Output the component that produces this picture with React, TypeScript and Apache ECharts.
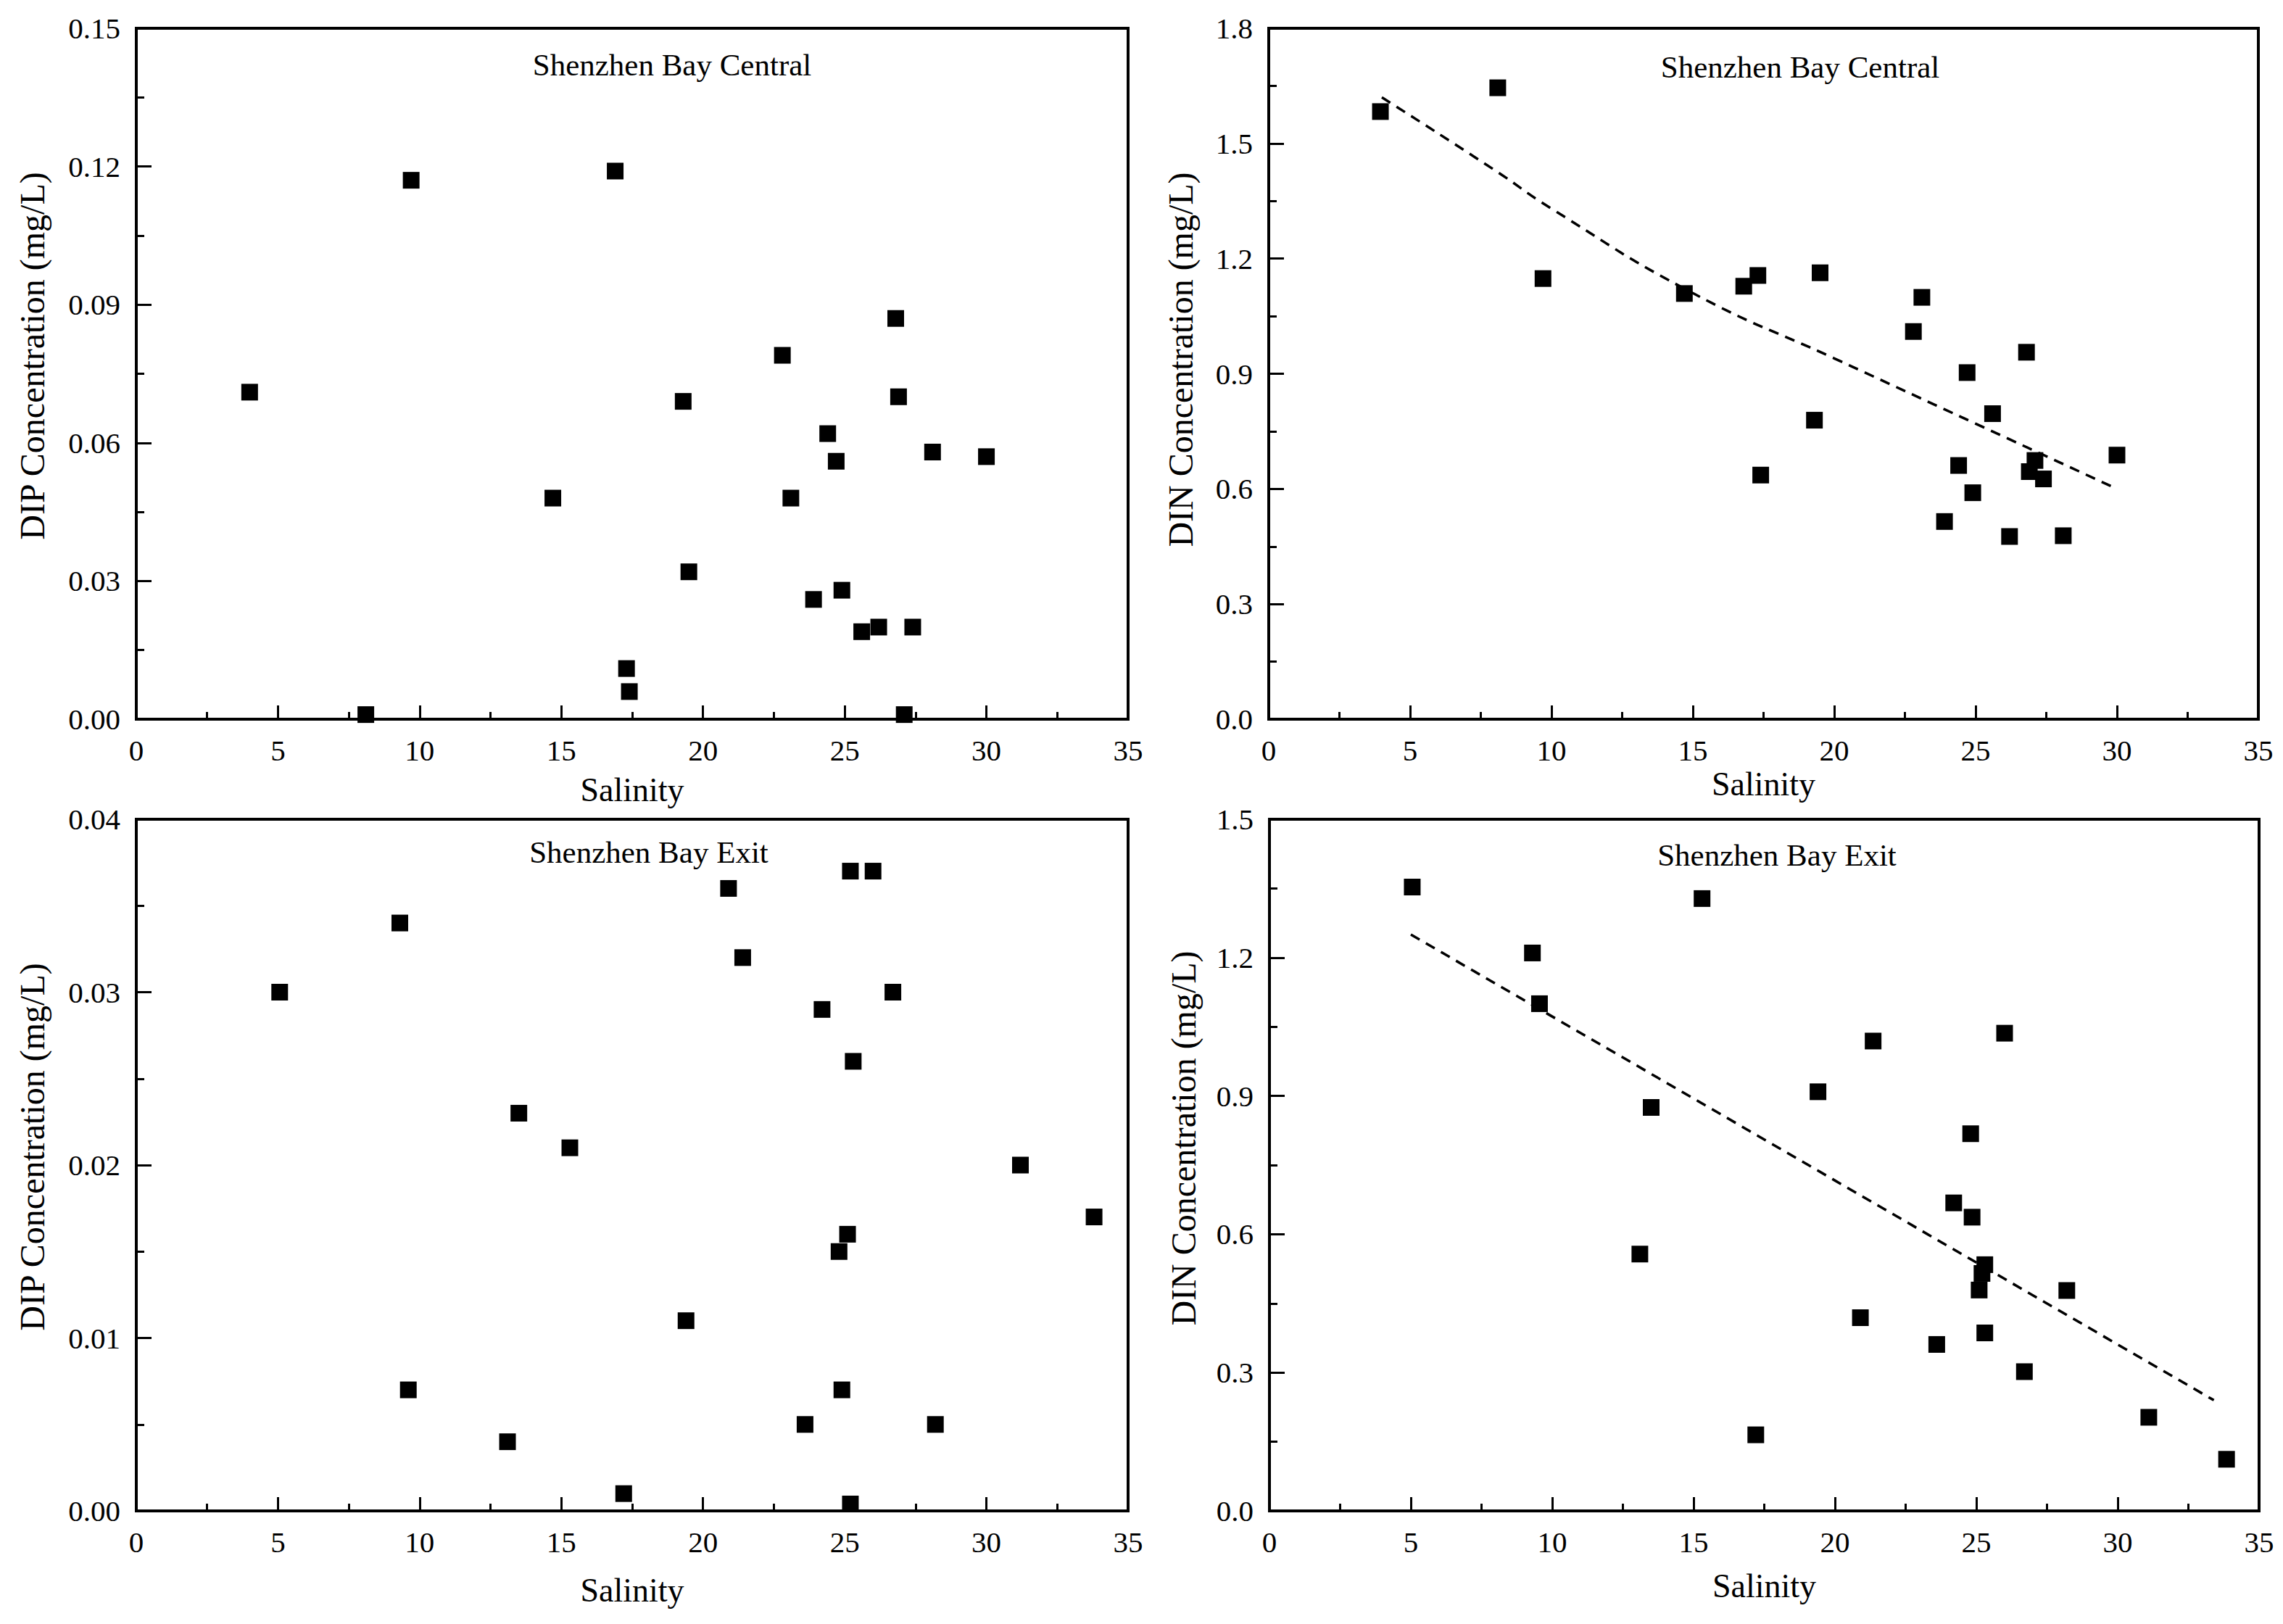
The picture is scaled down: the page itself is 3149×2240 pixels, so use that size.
import React, { useEffect, useRef } from "react";
import * as echarts from "echarts";

// ---- Data ----
const centralSalinityDIP = [4.0, 8.1, 9.7, 14.7, 16.9, 17.3, 17.4, 19.3, 19.5, 22.8, 23.1, 23.9, 24.4, 24.7, 24.9, 25.6, 26.2, 26.8, 26.9, 27.1, 27.4, 28.1, 30.0];
const centralDIP = [0.071, 0.001, 0.117, 0.048, 0.119, 0.011, 0.006, 0.069, 0.032, 0.079, 0.048, 0.026, 0.062, 0.056, 0.028, 0.019, 0.020, 0.087, 0.070, 0.001, 0.020, 0.058, 0.057];

const centralSalinityDIN = [3.95, 8.1, 9.7, 14.7, 16.8, 17.3, 17.4, 19.3, 19.5, 22.8, 23.1, 23.9, 24.4, 24.7, 24.9, 25.6, 26.2, 26.8, 26.9, 27.1, 27.4, 28.1, 30.0];
const centralDIN = [1.583, 1.645, 1.148, 1.109, 1.128, 1.156, 0.636, 0.779, 1.163, 1.010, 1.099, 0.515, 0.661, 0.903, 0.590, 0.796, 0.476, 0.956, 0.645, 0.674, 0.626, 0.478, 0.688];
const centralTrendX = [4, 8, 10, 15, 20, 25, 30];
const centralTrendY = [1.62, 1.43, 1.33, 1.11, 0.94, 0.77, 0.6];

const exitSalinityDIP = [5.06, 9.3, 9.6, 13.1, 13.5, 15.3, 17.2, 19.4, 20.9, 21.4, 23.6, 24.2, 24.8, 24.9, 25.1, 25.2, 25.3, 25.2, 26.0, 26.7, 28.2, 31.2, 33.8];
const exitDIP = [0.030, 0.034, 0.007, 0.004, 0.023, 0.021, 0.001, 0.011, 0.036, 0.032, 0.005, 0.029, 0.015, 0.007, 0.016, 0.037, 0.026, 0.0004, 0.037, 0.030, 0.005, 0.020, 0.017];

const exitSalinityDIN = [5.05, 9.3, 9.55, 13.1, 13.5, 15.3, 17.2, 19.4, 20.9, 21.35, 23.6, 24.2, 24.8, 24.85, 25.1, 25.3, 25.2, 25.3, 26.0, 26.7, 28.2, 31.1, 33.85];
const exitDIN = [1.353, 1.210, 1.100, 0.557, 0.875, 1.328, 0.165, 0.909, 0.419, 1.019, 0.361, 0.668, 0.818, 0.637, 0.479, 0.534, 0.515, 0.386, 1.036, 0.302, 0.478, 0.203, 0.112];
const exitTrendX = [5.0, 33.4];
const exitTrendY = [1.25, 0.24];

const panelTitles = ["Shenzhen Bay Central", "Shenzhen Bay Central", "Shenzhen Bay Exit", "Shenzhen Bay Exit"];
const yNames = ["DIP Concentration (mg/L)", "DIN Concentration (mg/L)", "DIP Concentration (mg/L)", "DIN Concentration (mg/L)"];
const xName = "Salinity";

const FONT = "Liberation Serif";

const zip = (xs: number[], ys: number[]) => xs.map((x, i) => [x, ys[i]]);

export default function App() {
  const ref = useRef<HTMLDivElement>(null);

  useEffect(() => {
    if (!ref.current) return;
    const chart = echarts.init(ref.current, null, { renderer: "svg" });

    const grids = [
      { left: 188, top: 39, width: 1368, height: 953 },
      { left: 1750, top: 39, width: 1365, height: 953 },
      { left: 188, top: 1130, width: 1368, height: 954 },
      { left: 1751, top: 1130, width: 1365, height: 954 },
    ];
    const yCfg = [
      { max: 0.15, interval: 0.03, dec: 2 },
      { max: 1.8, interval: 0.3, dec: 1 },
      { max: 0.04, interval: 0.01, dec: 2 },
      { max: 1.5, interval: 0.3, dec: 1 },
    ];
    const xGaps = [74, 66, 86, 80];
    const yNamePos = [
      { x: 44, y: 491 },
      { x: 1628, y: 496 },
      { x: 44, y: 1582 },
      { x: 1632, y: 1570 },
    ];
    const titlePos = [
      { x: 927, y: 89 },
      { x: 2483, y: 92 },
      { x: 895, y: 1175 },
      { x: 2451, y: 1179 },
    ];

    const tickStyle = { color: "#000", width: 3 };
    const markerStyle = { color: "#000", opacity: 1 };

    const option: any = {
      animation: false,
      backgroundColor: "#fff",
      grid: grids.map((g) => ({
        ...g,
        show: true,
        borderColor: "#000",
        borderWidth: 4,
        backgroundColor: "transparent",
        containLabel: false,
      })),
      xAxis: grids.map((_, i) => ({
        type: "value",
        gridIndex: i,
        min: 0,
        max: 35,
        interval: 5,
        name: xName,
        nameLocation: "middle",
        nameGap: xGaps[i],
        nameTextStyle: { fontFamily: FONT, fontSize: 46, color: "#000" },
        axisLine: { show: true, lineStyle: { color: "#000", width: 4 } },
        axisTick: { show: true, inside: true, length: 19, lineStyle: tickStyle },
        minorTick: { show: true, splitNumber: 2, length: 10, lineStyle: tickStyle },
        axisLabel: { fontFamily: FONT, fontSize: 41, color: "#000", margin: 22 },
        splitLine: { show: false },
      })),
      yAxis: grids.map((_, i) => ({
        type: "value",
        gridIndex: i,
        min: 0,
        max: yCfg[i].max,
        interval: yCfg[i].interval,
        axisLine: { show: true, lineStyle: { color: "#000", width: 4 } },
        axisTick: { show: true, inside: true, length: 21, lineStyle: tickStyle },
        minorTick: { show: true, splitNumber: 2, length: 11, lineStyle: tickStyle },
        axisLabel: {
          fontFamily: FONT,
          fontSize: 41,
          color: "#000",
          margin: 22,
          formatter: (v: number) => v.toFixed(yCfg[i].dec),
        },
        splitLine: { show: false },
      })),
      series: [
        {
          type: "scatter",
          xAxisIndex: 0,
          yAxisIndex: 0,
          symbol: "rect",
          symbolSize: 23,
          itemStyle: markerStyle,
          data: zip(centralSalinityDIP, centralDIP),
        },
        {
          type: "scatter",
          xAxisIndex: 1,
          yAxisIndex: 1,
          symbol: "rect",
          symbolSize: 23,
          itemStyle: markerStyle,
          data: zip(centralSalinityDIN, centralDIN),
        },
        {
          type: "line",
          xAxisIndex: 1,
          yAxisIndex: 1,
          smooth: true,
          showSymbol: false,
          symbol: "none",
          lineStyle: { color: "#000", width: 3.5, type: [14, 10] },
          data: zip(centralTrendX, centralTrendY),
          z: 1,
        },
        {
          type: "scatter",
          xAxisIndex: 2,
          yAxisIndex: 2,
          symbol: "rect",
          symbolSize: 23,
          itemStyle: markerStyle,
          data: zip(exitSalinityDIP, exitDIP),
        },
        {
          type: "scatter",
          xAxisIndex: 3,
          yAxisIndex: 3,
          symbol: "rect",
          symbolSize: 23,
          itemStyle: markerStyle,
          data: zip(exitSalinityDIN, exitDIN),
        },
        {
          type: "line",
          xAxisIndex: 3,
          yAxisIndex: 3,
          showSymbol: false,
          symbol: "none",
          lineStyle: { color: "#000", width: 3.5, type: [14, 10] },
          data: zip(exitTrendX, exitTrendY),
          z: 1,
        },
      ],
      graphic: [
        ...titlePos.map((p, i) => ({
          type: "text",
          x: p.x,
          y: p.y,
          silent: true,
          style: {
            text: panelTitles[i],
            fontFamily: FONT,
            fontSize: 43,
            fill: "#000",
            align: "center",
            verticalAlign: "middle",
          },
        })),
        ...yNamePos.map((p, i) => ({
          type: "text",
          x: p.x,
          y: p.y,
          rotation: Math.PI / 2,
          silent: true,
          style: {
            text: yNames[i],
            fontFamily: FONT,
            fontSize: 48,
            fill: "#000",
            align: "center",
            verticalAlign: "middle",
          },
        })),
      ],
    };

    chart.setOption(option);
    return () => chart.dispose();
  }, []);

  return (
    <div
      ref={ref}
      style={{ position: "absolute", left: 0, top: 0, width: 3149, height: 2240, background: "#fff" }}
    />
  );
}
